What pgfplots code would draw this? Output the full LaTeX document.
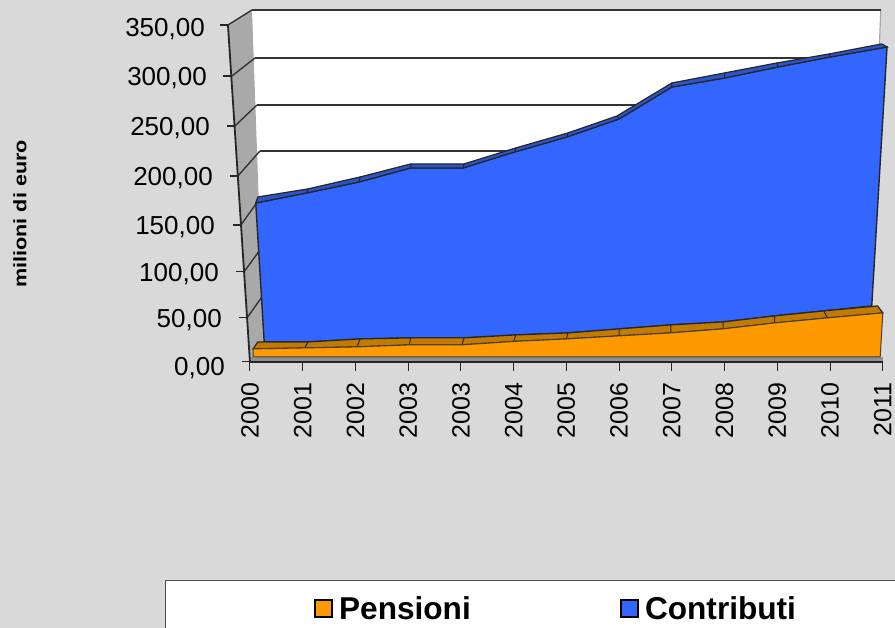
\documentclass[border=0pt]{standalone}
\usepackage{fontspec}
\setmainfont{Liberation Sans}
\usepackage{pgfplots}
\pgfplotsset{compat=1.18}
\definecolor{bgc}{HTML}{D9D9D9}
\definecolor{wallc}{HTML}{A9A9A9}
\definecolor{floorc}{HTML}{8F8F8F}
\definecolor{orangef}{HTML}{FF9900}
\definecolor{oranget}{HTML}{C27A00}
\definecolor{bluef}{HTML}{3366FF}
\definecolor{bluet}{HTML}{2B55C8}
\definecolor{gridc}{HTML}{333333}
\newcommand{\tl}[3]{\node[anchor=east,inner sep=0pt] at (axis cs:#1,#2) {\fontsize{26}{30}\selectfont #3};}
\begin{document}
\begin{tikzpicture}[x=1pt,y=1pt]
% decoration frame in picture units
\begin{axis}[at={(0pt,0pt)},anchor=south west,scale only axis,width=895pt,height=628pt,
  xmin=0,xmax=895,ymin=0,ymax=628,y dir=reverse,hide axis]
\addplot[draw=none,fill=bgc] coordinates {(0,0)(895,0)(895,628)(0,628)} -- cycle;
\addplot[draw=none,fill=white] coordinates {(252,10)(881,10)(872,306)(262,340)} -- cycle;
\addplot[draw=wallc,line width=1.2pt] coordinates {(881,10)(879,60)};
\addplot[draw=none,fill=wallc] coordinates {(228,25)(252,10)(264,345)(250,360)} -- cycle;
\addplot[draw=gridc,line width=1.8pt] coordinates {(252,10)(881,10)};
\addplot[draw=gridc,line width=1.8pt] coordinates {(255,58)(870,58)};
\addplot[draw=gridc,line width=1.8pt] coordinates {(257,105)(700,105)};
\addplot[draw=gridc,line width=1.8pt] coordinates {(260,151)(560,151)};
\addplot[draw=gridc,line width=1.4pt] coordinates {(228,25)(252,10)};
\addplot[draw=gridc,line width=1.4pt] coordinates {(232,76)(255,58)};
\addplot[draw=gridc,line width=1.4pt] coordinates {(235,126)(257,105)};
\addplot[draw=gridc,line width=1.4pt] coordinates {(238,176)(260,151)};
\addplot[draw=gridc,line width=1.4pt] coordinates {(241,225)(256,204)};
\addplot[draw=gridc,line width=1.4pt] coordinates {(244,272)(260,250)};
\addplot[draw=gridc,line width=1.4pt] coordinates {(247,318)(262,297)};
\addplot[draw=none,fill=floorc] coordinates {(250,357)(883,357)(883,363)(250,363)} -- cycle;
\addplot[draw=black!85,line width=1.8pt] coordinates {(228,25)(250,362)};
\addplot[draw=black!85,line width=1.1pt] coordinates {(220,25)(228,25)};
\addplot[draw=black!85,line width=1.1pt] coordinates {(223,76)(232,76)};
\addplot[draw=black!85,line width=1.1pt] coordinates {(227,126)(235,126)};
\addplot[draw=black!85,line width=1.1pt] coordinates {(230,176)(238,176)};
\addplot[draw=black!85,line width=1.1pt] coordinates {(233,225)(241,225)};
\addplot[draw=black!85,line width=1.1pt] coordinates {(236,272)(244,272)};
\addplot[draw=black!85,line width=1.1pt] coordinates {(239,318)(248,318)};
\addplot[draw=black!85,line width=1.1pt] coordinates {(242,362)(250,362)};
\tl{205}{29}{350,00}
\tl{207}{78}{300,00}
\tl{210}{128}{250,00}
\tl{213}{178}{200,00}
\tl{215}{227}{150,00}
\tl{219}{274}{100,00}
\tl{222}{320}{50,00}
\tl{225}{368}{0,00}
\node[rotate=90,inner sep=0pt] at (axis cs:20,214) {\scalebox{1.2}[1]{\fontsize{18}{20}\selectfont\bfseries milioni di euro}};
\end{axis}
% data axis: front plane, 0..350 along 335 units of height
\begin{axis}[at={(250pt,266pt)},anchor=south west,scale only axis,width=633pt,height=335pt,
  xmin=0,xmax=12,ymin=0,ymax=350,clip=false,
  axis y line=none,axis x line=bottom,axis line style={draw=black!85,line width=1.8pt,-},
  xtick={0,...,12},xticklabels={2000,2001,2002,2003,2003,2004,2005,2006,2007,2008,2009,2010,2011},
  x tick label style={rotate=90,anchor=east,font=\fontsize{25}{28}\selectfont,yshift=0pt},
  major tick length=9pt,tick style={draw=black!85,line width=1pt},
  tick align=outside,xticklabel shift=8pt,xtick pos=bottom,unbounded coords=jump]
% Contributi front face
\addplot[fill=bluef,draw=black!85,line width=1.4pt] coordinates {
 (0.11,166.1)(1.08,176.6)(2.07,188.1)(3.05,202.7)(4.04,202.7)(5.02,219.4)(6.01,235.1)(7.00,253.9)(8.00,287.3)(9.00,296.7)(10.01,308.2)(11.00,318.7)(12.08,329.1)
 (11.79,58.5)(10.88,53.3)(9.95,48.1)(8.97,41.8)(7.98,38.7)(7.00,34.5)(6.03,30.3)(5.04,28.2)(4.06,25.1)(3.05,25.1)(2.09,24.0)(1.10,20.9)(0.27,20.9)} -- cycle;
% Contributi top strip
\addplot[fill=bluet,draw=black!85,line width=1.2pt] coordinates {
 (0.15,172.4)(1.10,180.8)(2.09,193.3)(3.05,206.9)(4.06,206.9)(5.04,223.6)(6.03,239.3)(6.96,257.0)(8.00,291.5)(9.00,302.0)(9.99,312.4)(10.98,321.8)(11.98,332.3)
 (12.08,329.1)(11.00,318.7)(10.01,308.2)(9.00,296.7)(8.00,287.3)(7.00,253.9)(6.01,235.1)(5.02,219.4)(4.04,202.7)(3.05,202.7)(2.07,188.1)(1.08,176.6)(0.11,166.1)} -- cycle;
\addplot[draw=black!85,line width=1pt] coordinates {
 (1.10,180.8)(1.08,176.6)(nan,nan)(2.09,193.3)(2.07,188.1)(nan,nan)(3.05,206.9)(3.05,202.7)(nan,nan)(4.06,206.9)(4.04,202.7)(nan,nan)(5.04,223.6)(5.02,219.4)(nan,nan)(6.03,239.3)(6.01,235.1)(nan,nan)(6.96,257.0)(7.00,253.9)(nan,nan)(8.00,291.5)(8.00,287.3)(nan,nan)(9.00,302.0)(9.00,296.7)(nan,nan)(9.99,312.4)(10.01,308.2)(nan,nan)(10.98,321.8)(11.00,318.7)};
% Pensioni top strip
\addplot[fill=oranget,draw=black!85,line width=1.2pt] coordinates {
 (0.15,20.9)(1.10,20.9)(2.09,24.0)(3.05,25.1)(4.06,25.1)(5.04,28.2)(6.03,30.3)(7.00,34.5)(7.98,38.7)(8.97,41.8)(9.95,48.1)(10.88,53.3)(11.90,58.5)
 (12.00,51.2)(10.95,46.0)(9.95,40.7)(8.97,34.5)(7.98,30.3)(7.00,27.2)(6.00,24.0)(5.00,21.4)(4.02,17.8)(3.02,17.8)(2.03,15.7)(1.04,14.6)(0.06,13.6)} -- cycle;
\addplot[draw=black!85,line width=1pt] coordinates {
 (1.10,20.9)(1.04,14.6)(nan,nan)(2.09,24.0)(2.03,15.7)(nan,nan)(3.05,25.1)(3.02,17.8)(nan,nan)(4.06,25.1)(4.02,17.8)(nan,nan)(5.04,28.2)(5.00,21.4)(nan,nan)(6.03,30.3)(6.00,24.0)(nan,nan)(7.00,34.5)(7.00,27.2)(nan,nan)(7.98,38.7)(7.98,30.3)(nan,nan)(8.97,41.8)(8.97,34.5)(nan,nan)(9.95,48.1)(9.95,40.7)(nan,nan)(10.88,53.3)(10.95,46.0)};
% Pensioni front face
\addplot[fill=orangef,draw=black!75,line width=1pt] coordinates {
 (0.06,13.6)(1.04,14.6)(2.03,15.7)(3.02,17.8)(4.02,17.8)(5.00,21.4)(6.00,24.0)(7.00,27.2)(7.98,30.3)(8.97,34.5)(9.95,40.7)(10.95,46.0)(12.00,51.2)
 (11.95,5.2)(0.06,5.2)} -- cycle;
\end{axis}
% legend
\begin{axis}[at={(0pt,0pt)},anchor=south west,scale only axis,width=895pt,height=628pt,
  xmin=0,xmax=895,ymin=0,ymax=628,y dir=reverse,hide axis]
\addplot[fill=white,draw=black!70,line width=1pt] coordinates {(166,581)(905,581)(905,640)(166,640)} -- cycle;
\addplot[fill=orangef,draw=black,line width=1.8pt] coordinates {(315,600)(332,600)(332,617)(315,617)} -- cycle;
\addplot[fill=bluef,draw=black,line width=1.8pt] coordinates {(621,600)(638,600)(638,617)(621,617)} -- cycle;
\node[anchor=base west,inner sep=0pt] at (axis cs:339,620) {\fontsize{31.6}{34}\selectfont\bfseries Pensioni};
\node[anchor=base west,inner sep=0pt] at (axis cs:645,620) {\fontsize{31.6}{34}\selectfont\bfseries Contributi};
\end{axis}
\end{tikzpicture}
\end{document}
